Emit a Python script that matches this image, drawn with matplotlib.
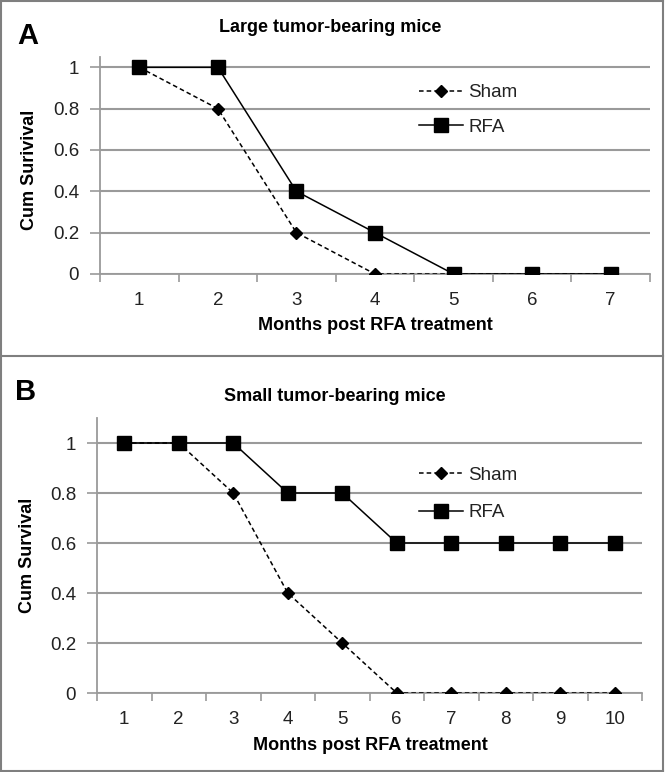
import matplotlib
matplotlib.use("Agg")
from matplotlib import pyplot as plt
from matplotlib.lines import Line2D
from matplotlib.ticker import FixedLocator
import numpy as np

plt.rcParams['font.family'] = ['Liberation Sans', 'DejaVu Sans']

# panel A data
months_a = [1, 2, 3, 4, 5, 6, 7]
sham_a = [1, 0.8, 0.2, 0, 0, 0, 0]
rfa_a = [1, 1, 0.4, 0.2, 0, 0, 0]

# panel B data
months_b = [1, 2, 3, 4, 5, 6, 7, 8, 9, 10]
sham_b = [1, 1, 0.8, 0.4, 0.2, 0, 0, 0, 0, 0]
rfa_b = [1, 1, 1, 0.8, 0.8, 0.6, 0.6, 0.6, 0.6, 0.6]

yticks = [0, 0.2, 0.4, 0.6, 0.8, 1]
ytick_labels = ['0', '0.2', '0.4', '0.6', '0.8', '1']

W, H = 665, 772
GRID = '#9a9a9a'
fig = plt.figure(figsize=(W / 100, H / 100), dpi=100)


def px(x0, y0, x1, y1):
    # pixel box (top-left origin) -> figure fraction rect
    return [x0 / W, 1 - y1 / H, (x1 - x0) / W, (y1 - y0) / H]


def draw_panel(ax, months, sham, rfa, ytop, leg_xy, leg_space):
    n = len(months)
    ax.plot(months, sham, color='black', ls=(0, (3, 2)), lw=1.1,
            marker='D', ms=6.5, label='Sham', zorder=3)
    ax.plot(months, rfa, color='black', ls='-', lw=1.1,
            marker='s', ms=9.5, label='RFA', zorder=4)
    ax.set_xlim(0.5, n + 0.5)
    ax.set_ylim(0, ytop)
    ax.set_yticks(yticks)
    ax.set_yticklabels(ytick_labels)
    ax.set_xticks(months)
    ax.set_xticklabels([str(m) for m in months])
    ax.xaxis.set_minor_locator(FixedLocator(np.arange(0.5, n + 1, 1.0)))
    ax.tick_params(axis='x', which='major', length=0, pad=13,
                   labelsize=13.5, labelcolor='#222222')
    ax.tick_params(axis='x', which='minor', length=6, color=GRID, width=1.2)
    ax.tick_params(axis='y', length=7, color=GRID, width=1.2, pad=8,
                   labelsize=13.5, labelcolor='#222222')
    for lab in ax.get_yticklabels():
        lab.set_fontstretch('condensed')
    ax.grid(axis='y', color=GRID, lw=1.5)
    ax.set_axisbelow(True)
    for s in ['top', 'right']:
        ax.spines[s].set_visible(False)
    for s in ['left', 'bottom']:
        ax.spines[s].set_color(GRID)
        ax.spines[s].set_linewidth(1.3)
    leg = ax.legend(loc='center left', bbox_to_anchor=leg_xy,
                    bbox_transform=fig.transFigure, frameon=False,
                    fontsize=13.5, handlelength=2.3, handletextpad=0.3,
                    borderpad=0, labelspacing=leg_space)
    for t in leg.get_texts():
        t.set_color('#222222')


ax_a = fig.add_axes(px(100, 57, 650, 274))
draw_panel(ax_a, months_a, sham_a, rfa_a, 1.05,
           (410 / W, 1 - 110 / H), 0.95)

ax_b = fig.add_axes(px(97, 418, 642, 693))
draw_panel(ax_b, months_b, sham_b, rfa_b, 1.1,
           (410 / W, 1 - 494 / H), 1.1)

# titles, panel letters, axis labels
def ftext(x, y, s, **kw):
    fig.text(x / W, 1 - y / H, s, ha='center', va='center', **kw)

ftext(330, 27, 'Large tumor-bearing mice', fontsize=13, fontweight='bold')
ftext(28, 36, 'A', fontsize=21, fontweight='bold')
ftext(30, 170, 'Cum Surivival', fontsize=13, fontweight='bold', rotation=90)
ftext(375, 326, 'Months post RFA treatment', fontsize=13, fontweight='bold')

ftext(335, 396, 'Small tumor-bearing mice', fontsize=13, fontweight='bold')
ftext(26, 392, 'B', fontsize=21, fontweight='bold')
ftext(27, 555, 'Cum Survival', fontsize=13, fontweight='bold', rotation=90)
ftext(370, 745, 'Months post RFA treatment', fontsize=13, fontweight='bold')

# panel borders
bc = '#7f7f7f'
for (x0, y0, x1, y1) in [(1, 1, 663, 1), (1, 771, 663, 771), (1, 1, 1, 771),
                         (663, 1, 663, 771), (1, 356, 663, 356)]:
    fig.add_artist(Line2D([x0 / W, x1 / W], [1 - y0 / H, 1 - y1 / H],
                          color=bc, lw=1.5, transform=fig.transFigure))

fig.savefig('out.png', dpi=100)
